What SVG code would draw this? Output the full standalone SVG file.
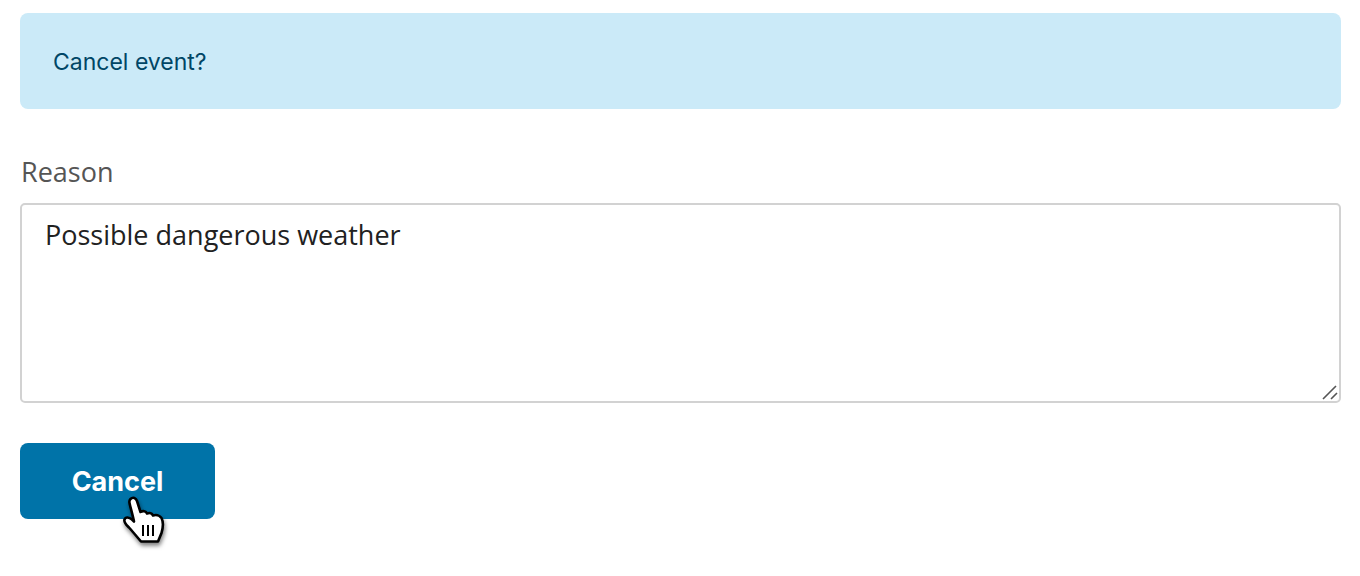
<svg xmlns="http://www.w3.org/2000/svg" width="1360" height="576" viewBox="0 0 1360 576">
<defs>
<style>
.banner{fill:#cbeaf8}
.t1{font-family:"Inter","Liberation Sans",sans-serif;font-size:23px;fill:#004666}
.t2{font-family:"Open Sans","Noto Sans",sans-serif;font-size:27px;fill:#555555}
.t3{font-family:"Open Sans","Noto Sans",sans-serif;font-size:27px;fill:#212121}
.t4{font-family:"Inter","Liberation Sans",sans-serif;font-size:27px;font-weight:700;fill:#ffffff}
</style>
<filter id="sh" x="-30%" y="-30%" width="160%" height="160%"><feDropShadow dx="1" dy="3" stdDeviation="2" flood-color="#000" flood-opacity="0.5"/></filter>
</defs>
<rect width="1360" height="576" fill="#ffffff"/>
<g id="banner">
<rect class="banner" x="20" y="13" width="1321" height="96" rx="8"/>
<text class="t1" x="53" y="70">Cancel event?</text>
</g>
<g id="reason-label">
<text class="t2" x="21" y="182">Reason</text>
</g>
<g id="reason-input">
<rect x="21" y="204" width="1319" height="198" rx="4" fill="#fff" stroke="#d2d2d2" stroke-width="2"/>
<text class="t3" x="45" y="245">Possible dangerous weather</text>
<path d="M1323 399L1336 386M1331 399L1337 393" stroke="#555" stroke-width="1.6" fill="none"/>
</g>
<g id="cancel-button">
<rect x="20" y="443" width="195" height="76" rx="8" fill="#0073a8"/>
<text class="t4" x="117.500" y="491" text-anchor="middle">Cancel</text>
</g>
<g id="cursor" filter="url(#sh)">
<path d="M130.500 499C133 496.500 136 498 137 501L140.500 512C143 510.500 146 511 147 513.500C149.500 512.500 152 513 153 515.500C156 514.500 159.500 515.500 161.500 518C163.500 522 163 528 161.500 533L158 541.500L141 541.500C138 538 133 532 129 527.500C126.500 525 123.500 522.500 124.500 519.500C125.500 516.500 129 517 132 519.500L134 521.500C132.500 514 130 506 129.500 503C129.200 501.500 129.500 500 130.500 499Z" fill="#fff" stroke="#000" stroke-width="2.600" stroke-linejoin="round"/>
<path d="M143 525V536M148 525V536M153 525V536" stroke="#000" stroke-width="2" fill="none"/>
</g>
<g id="connectors"/>
</svg>
